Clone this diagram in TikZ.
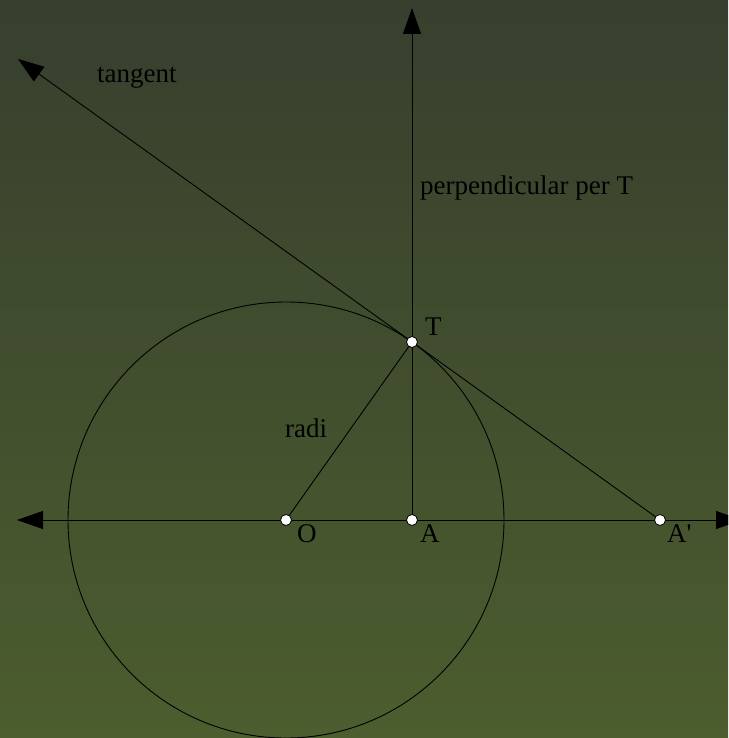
\documentclass[tikz,border=0pt]{standalone}
\usepackage{fontspec}
\setmainfont{Liberation Serif}
\usetikzlibrary{arrows.meta}
\definecolor{bgtop}{RGB}{55,63,46}
\definecolor{bgbot}{RGB}{76,93,46}
\tikzset{
  pt/.style={circle,draw=black,fill=white,line width=0.8pt,inner sep=0pt,minimum size=11pt},
  ln/.style={draw=black,line width=0.9pt},
  arr/.style={-{Triangle[length=26pt,width=18pt]}},
  lbl/.style={anchor=base west,inner sep=0pt,font=\fontsize{27}{30}\selectfont},
}
\begin{document}
\begin{tikzpicture}[x=1pt,y=-1pt]
\shade[top color=bgtop,bottom color=bgbot] (0,0) rectangle (728,738);
\useasboundingbox (0,0) rectangle (728,738);
\clip (0,0) rectangle (728,738);
\coordinate (O) at (286,520);
\coordinate (A) at (412,520);
\coordinate (T) at (412,342);
\coordinate (Ap) at (660,520);
\coordinate (Lend) at (17,520);
\coordinate (Rend) at (742,520);
\coordinate (Vend) at (412,8);
\coordinate (Tend) at (18,59);
\draw[ln] (O) circle[radius=218];
\draw[ln,{Triangle[length=26pt,width=18pt]}-{Triangle[length=26pt,width=18pt]}] (Lend) -- (Rend);
\draw[ln,arr] (A) -- (Vend);
\draw[ln,arr] (Ap) -- (Tend);
\draw[ln] (O) -- (T);
\node[pt] (pO) at (O) {};
\node[pt] (pA) at (A) {};
\node[pt] (pT) at (T) {};
\node[pt] (pAp) at (Ap) {};
\node[lbl] (ltan) at (97,83) {tangent};
\node[lbl] (lperp) at (420,194) {perpendicular per T};
\node[lbl] (lT) at (425,335) {T};
\node[lbl] (lradi) at (285,437) {radi};
\node[lbl] (lO) at (297,542) {O};
\node[lbl] (lA) at (420,542) {A};
\node[lbl] (lAp) at (667,542) {A\textquotesingle};
\end{tikzpicture}
\end{document}
